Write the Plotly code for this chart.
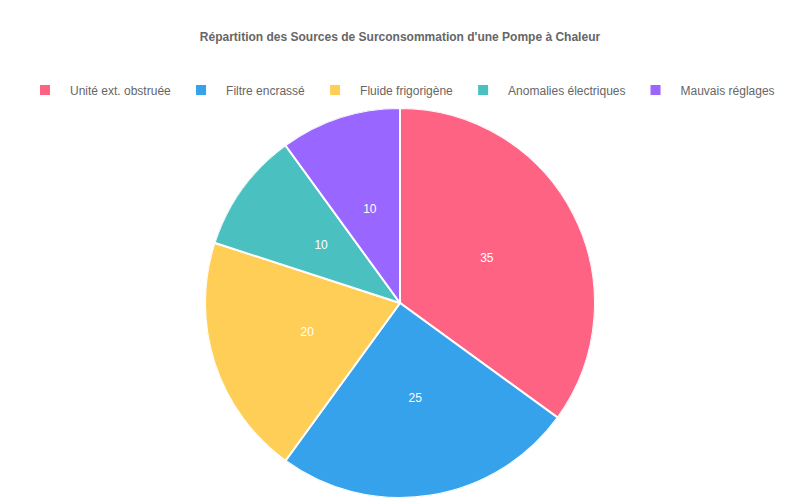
import numpy as np
import plotly.graph_objects as go

labels = ["Unité ext. obstruée", "Filtre encrassé", "Fluide frigorigène",
          "Anomalies électriques", "Mauvais réglages"]
values = [35, 25, 20, 10, 10]
colors = ["#FF6384", "#36A2EB", "#FFCE56", "#4BC0C0", "#9966FF"]

# slices drawn as polar bars so the value labels can sit on top of them
vals = np.array(values, dtype=float)
span = vals / vals.sum() * 360
mid = np.cumsum(span) - span / 2

fig = go.Figure()
for lab, v, c, th, w in zip(labels, values, colors, mid, span):
    fig.add_trace(go.Barpolar(
        r=[1], theta=[th], width=[w], name=lab,
        marker=dict(color=c, line=dict(color="#ffffff", width=2)),
        hovertemplate=lab + ": " + str(v) + "<extra></extra>",
    ))

fig.add_trace(go.Scatterpolar(
    r=[0.5] * len(values), theta=mid, mode="text",
    text=[str(v) for v in values],
    textfont=dict(color="#ffffff", size=12, family="Liberation Sans"),
    hoverinfo="skip", showlegend=False,
))

# page body adds an 8px offset, so positions are nudged up/left a bit
fig.update_layout(
    width=800, height=500,
    margin=dict(l=0, r=0, t=0, b=0, autoexpand=False),
    paper_bgcolor="white",
    font=dict(family="Liberation Sans", size=12, color="#666666"),
    title=dict(text="<b>Répartition des Sources de Surconsommation d'une Pompe à Chaleur</b>",
               x=0.49, xanchor="center", y=0.942, yanchor="middle",
               font=dict(size=12, color="#666666")),
    legend=dict(orientation="h", x=0.49, xanchor="center", y=0.836, yanchor="middle",
                font=dict(size=12, color="#666666"), traceorder="normal",
                itemwidth=40, itemclick=False),
    polar=dict(domain=dict(x=[0.24625, 0.73375], y=[0.02, 0.8]),
               bgcolor="rgba(0,0,0,0)", bargap=0,
               radialaxis=dict(range=[0, 1], visible=False),
               angularaxis=dict(rotation=90, direction="clockwise", visible=False)),
)

fig.write_html("out.html")
